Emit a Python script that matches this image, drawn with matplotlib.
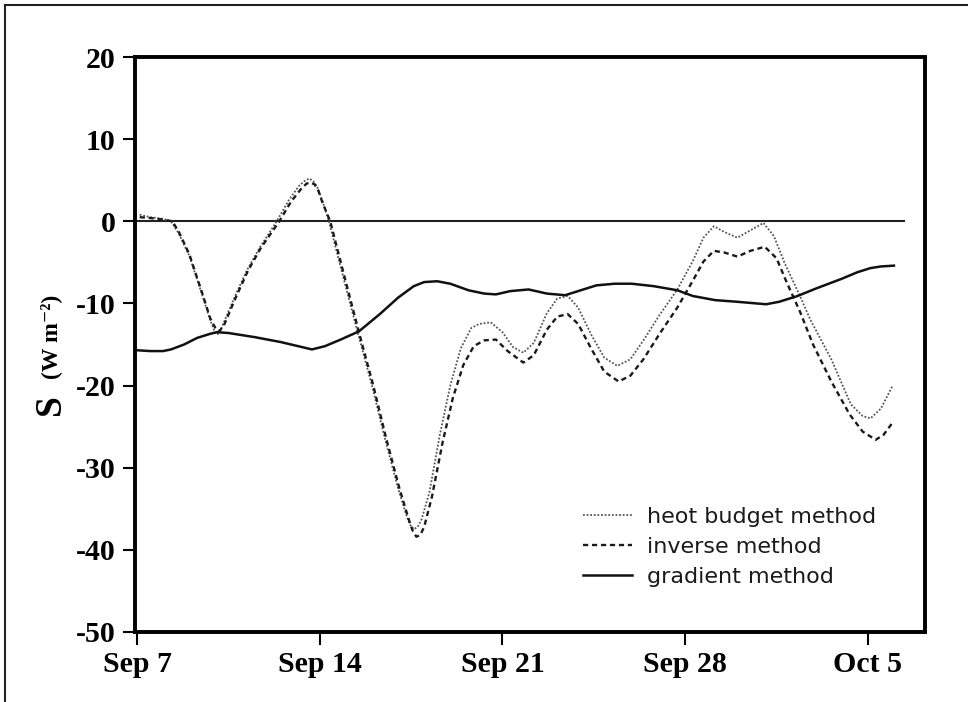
import matplotlib
matplotlib.use('Agg')
import matplotlib.pyplot as plt
from matplotlib.lines import Line2D

plt.rcParams['axes.unicode_minus'] = False

# days after Sep 7
heat_days = [0.1, 0.5, 1.0, 1.3, 1.6, 2.0, 2.5, 2.8, 2.95, 3.05, 3.15, 3.3, 3.7, 4.2, 4.7, 5.35, 5.8,
             6.2, 6.45, 6.6, 6.75, 6.9, 7.1, 7.35, 7.9, 8.45, 9.0, 9.5, 10.0, 10.3, 10.45, 10.6,
             10.75, 10.9, 11.2, 11.6, 12.0, 12.4, 12.8, 13.1, 13.55, 14.0, 14.4, 14.8, 15.2, 15.7,
             16.1, 16.5, 16.9, 17.4, 17.9, 18.4, 18.9, 19.4, 20.0, 20.7, 21.3, 21.7, 22.1, 22.5,
             23.0, 23.5, 24.0, 24.4, 24.8, 25.4, 25.8, 26.6, 27.35, 27.8, 28.1, 28.5, 28.95]
heat_vals = [0.8, 0.5, 0.3, 0.0, -1.5, -4.2, -9.0, -12.0, -13.3, -13.8, -13.6, -12.5, -9.5, -6.0,
             -3.2, 0.0, 2.5, 4.3, 5.0, 5.2, 4.9, 4.2, 2.5, 0.0, -6.8, -13.5, -20.0, -26.5, -32.5,
             -35.6, -36.9, -37.5, -37.2, -36.3, -33.0, -26.0, -20.0, -15.5, -13.0, -12.5, -12.3,
             -13.5, -15.3, -16.0, -14.8, -11.2, -9.4, -9.1, -10.5, -13.8, -16.6, -17.6, -16.8,
             -14.5, -11.5, -8.3, -4.8, -2.0, -0.6, -1.3, -2.0, -1.1, -0.2, -1.8, -5.0, -9.1, -12.0,
             -16.8, -22.3, -23.7, -24.0, -22.8, -20.0]

inv_days = [0.1, 0.5, 1.0, 1.35, 1.6, 2.0, 2.5, 2.8, 3.0, 3.1, 3.2, 3.35, 3.75, 4.25, 4.75, 5.45,
            5.9, 6.3, 6.5, 6.65, 6.8, 6.95, 7.1, 7.4, 7.95, 8.5, 9.05, 9.55, 10.05, 10.4, 10.55,
            10.7, 10.85, 11.0, 11.3, 11.7, 12.1, 12.5, 12.9, 13.3, 13.75, 14.2, 14.8, 15.2, 15.7,
            16.1, 16.5, 16.9, 17.4, 17.9, 18.45, 18.9, 19.4, 20.0, 20.7, 21.3, 21.7, 22.1, 22.5,
            23.0, 23.5, 24.05, 24.5, 24.9, 25.4, 25.9, 26.6, 27.3, 27.8, 28.3, 28.6, 28.95]
inv_vals = [0.5, 0.4, 0.2, 0.0, -1.3, -4.0, -8.8, -11.8, -13.0, -13.4, -13.2, -12.5, -9.5, -6.0,
            -3.2, 0.0, 2.4, 4.0, 4.6, 4.7, 4.5, 3.7, 2.3, 0.0, -6.8, -13.5, -20.0, -26.5, -32.5,
            -36.2, -37.6, -38.4, -38.2, -37.2, -33.5, -27.0, -21.5, -17.5, -15.2, -14.5, -14.4,
            -15.8, -17.2, -16.3, -13.2, -11.6, -11.3, -12.5, -15.5, -18.3, -19.5, -18.8, -16.8,
            -13.8, -10.5, -7.2, -4.9, -3.6, -3.8, -4.3, -3.6, -3.1, -4.5, -7.5, -11.0, -15.0,
            -19.5, -23.5, -25.6, -26.6, -26.0, -24.5]

grad_days = [0.0, 0.5, 1.0, 1.3, 1.8, 2.3, 2.8, 3.05, 3.5, 4.5, 5.5, 6.3, 6.7, 7.2, 7.8, 8.5, 9.3,
             10.0, 10.6, 11.0, 11.5, 12.0, 12.7, 13.3, 13.75, 14.3, 15.0, 15.7, 16.4, 17.0, 17.6,
             18.3, 18.95, 19.8, 20.7, 21.3, 22.15, 23.0, 24.1, 24.6, 25.3, 26.0, 27.0, 27.6, 28.1,
             28.5, 29.0]
grad_vals = [-15.7, -15.8, -15.8, -15.6, -15.0, -14.2, -13.7, -13.5, -13.6, -14.1, -14.7, -15.3,
             -15.6, -15.2, -14.4, -13.4, -11.3, -9.3, -7.9, -7.4, -7.3, -7.6, -8.4, -8.8, -8.9,
             -8.5, -8.3, -8.8, -9.0, -8.4, -7.8, -7.6, -7.6, -7.9, -8.4, -9.1, -9.6, -9.8, -10.1,
             -9.8, -9.1, -8.2, -7.0, -6.2, -5.7, -5.5, -5.4]

zero_days = [0.0, 29.4]
zero_vals = [0.0, 0.0]

tick_days = [0, 7, 14, 21, 28]
tick_labels = ['Sep 7', 'Sep 14', 'Sep 21', 'Sep 28', 'Oct 5']
y_ticks = [-50, -40, -30, -20, -10, 0, 10, 20]

W, H = 968, 702
fig = plt.figure(figsize=(W / 100, H / 100), dpi=100)
fig.patch.set_facecolor('white')

# outer frame (only left and top edges visible)
fig.add_artist(Line2D([5 / W, 5 / W], [0, 1 - 5 / H], transform=fig.transFigure, color='#222', lw=1.5))
fig.add_artist(Line2D([5 / W, 1], [1 - 5 / H, 1 - 5 / H], transform=fig.transFigure, color='#222', lw=1.5))

ax = fig.add_axes([135 / W, 1 - 632 / H, (925 - 135) / W, (632 - 57) / H])

ax.plot(zero_days, zero_vals, color='#222', lw=1.5)
ax.plot(heat_days, heat_vals, color='#555', lw=1.3, linestyle=(0, (1, 1)), label='heot budget method')
ax.plot(inv_days, inv_vals, color='#1a1a1a', lw=1.7, linestyle=(0, (2.2, 1.6)), label='inverse method')
ax.plot(grad_days, grad_vals, color='#111', lw=1.8, label='gradient method')

ax.set_xlim(-0.08, 30.19)
ax.set_ylim(-50, 20)
ax.set_xticks(tick_days)
ax.set_xticklabels(tick_labels)
ax.set_yticks(y_ticks)

for s in ax.spines.values():
    s.set_linewidth(2.8)
ax.tick_params(direction='out', length=9, width=1.5, pad=5)
for lab in ax.get_xticklabels() + ax.get_yticklabels():
    lab.set_fontfamily('Liberation Serif')
    lab.set_fontweight('bold')
    lab.set_fontsize(21.5)

leg = ax.legend(loc='lower left', bbox_to_anchor=((583 - 135) / 790, 45 / 575), frameon=False,
                handlelength=2.2, handletextpad=0.7, labelspacing=0.45, borderpad=0,
                borderaxespad=0, prop={'family': 'DejaVu Sans', 'size': 16})
for t in leg.get_texts():
    t.set_color('#1a1a1a')

# y label: big S and smaller units
fig.text(50 / W, 1 - 405 / H, 'S', rotation=90, ha='center', va='center',
         family='Liberation Serif', weight='bold', fontsize=27)
fig.text(51 / W, 1 - 337 / H, '(W m\u207b\u00b2)', rotation=90, ha='center', va='center',
         family=['Liberation Serif', 'DejaVu Serif'], weight='bold', fontsize=17)

fig.savefig('out.png', dpi=100)
